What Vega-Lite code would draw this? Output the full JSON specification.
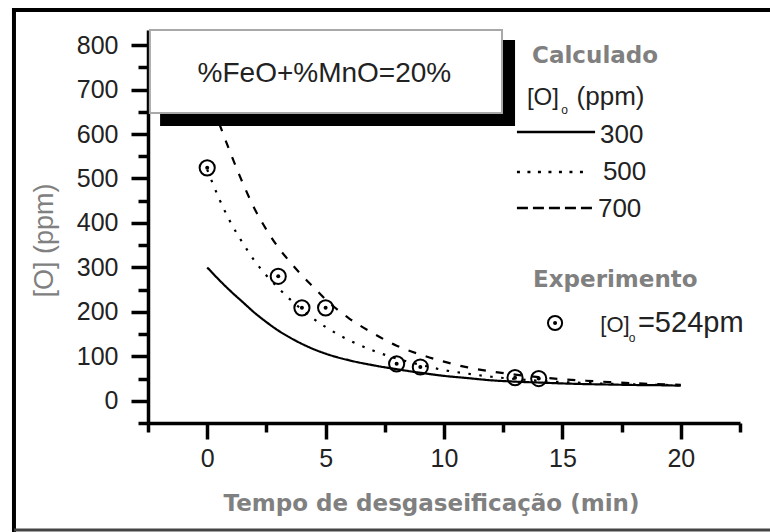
{
  "$schema": "https://vega.github.io/schema/vega-lite/v6.json",
  "width": 592,
  "height": 393,
  "autosize": "none",
  "padding": {"left": 148, "top": 30, "right": 30, "bottom": 109},
  "background": "white",
  "config": {"view": {"stroke": null}, "font": "Liberation Sans"},
  "resolve": {"axis": {"y": "independent"}},
  "datasets": {
    "curves": [
      {"s": "300", "t": 0, "O": 300}, {"s": "300", "t": 0.5, "O": 272}, {"s": "300", "t": 1, "O": 246}, {"s": "300", "t": 1.5, "O": 222},
      {"s": "300", "t": 2, "O": 198}, {"s": "300", "t": 2.5, "O": 177}, {"s": "300", "t": 3, "O": 158}, {"s": "300", "t": 3.5, "O": 142},
      {"s": "300", "t": 4, "O": 128}, {"s": "300", "t": 4.5, "O": 116}, {"s": "300", "t": 5, "O": 106}, {"s": "300", "t": 6, "O": 91},
      {"s": "300", "t": 7, "O": 80}, {"s": "300", "t": 8, "O": 71}, {"s": "300", "t": 9, "O": 63}, {"s": "300", "t": 10, "O": 56},
      {"s": "300", "t": 11, "O": 51}, {"s": "300", "t": 12, "O": 46}, {"s": "300", "t": 13, "O": 43}, {"s": "300", "t": 14, "O": 41},
      {"s": "300", "t": 15, "O": 39}, {"s": "300", "t": 16, "O": 37.5}, {"s": "300", "t": 17, "O": 36.5}, {"s": "300", "t": 18, "O": 35.5},
      {"s": "300", "t": 19, "O": 35}, {"s": "300", "t": 20, "O": 34},
      {"s": "500", "t": 0, "O": 520}, {"s": "500", "t": 0.5, "O": 455}, {"s": "500", "t": 1, "O": 400}, {"s": "500", "t": 1.5, "O": 355},
      {"s": "500", "t": 2, "O": 315}, {"s": "500", "t": 2.5, "O": 282}, {"s": "500", "t": 3, "O": 254}, {"s": "500", "t": 3.5, "O": 228},
      {"s": "500", "t": 4, "O": 205}, {"s": "500", "t": 4.5, "O": 184}, {"s": "500", "t": 5, "O": 166}, {"s": "500", "t": 5.5, "O": 150},
      {"s": "500", "t": 6, "O": 136}, {"s": "500", "t": 7, "O": 113}, {"s": "500", "t": 8, "O": 95}, {"s": "500", "t": 9, "O": 81},
      {"s": "500", "t": 10, "O": 69}, {"s": "500", "t": 11, "O": 61}, {"s": "500", "t": 12, "O": 54}, {"s": "500", "t": 13, "O": 49},
      {"s": "500", "t": 14, "O": 45}, {"s": "500", "t": 15, "O": 42}, {"s": "500", "t": 16, "O": 40}, {"s": "500", "t": 17, "O": 38},
      {"s": "500", "t": 18, "O": 37}, {"s": "500", "t": 19, "O": 36}, {"s": "500", "t": 20, "O": 35},
      {"s": "700", "t": 0, "O": 700}, {"s": "700", "t": 0.5, "O": 625}, {"s": "700", "t": 1, "O": 555}, {"s": "700", "t": 1.5, "O": 490},
      {"s": "700", "t": 2, "O": 432}, {"s": "700", "t": 2.5, "O": 385}, {"s": "700", "t": 3, "O": 345}, {"s": "700", "t": 3.5, "O": 312},
      {"s": "700", "t": 4, "O": 282}, {"s": "700", "t": 4.5, "O": 255}, {"s": "700", "t": 5, "O": 228}, {"s": "700", "t": 5.5, "O": 205},
      {"s": "700", "t": 6, "O": 185}, {"s": "700", "t": 7, "O": 152}, {"s": "700", "t": 8, "O": 124}, {"s": "700", "t": 9, "O": 104},
      {"s": "700", "t": 10, "O": 88}, {"s": "700", "t": 11, "O": 75}, {"s": "700", "t": 12, "O": 66}, {"s": "700", "t": 13, "O": 59},
      {"s": "700", "t": 14, "O": 53}, {"s": "700", "t": 15, "O": 48.5}, {"s": "700", "t": 16, "O": 45}, {"s": "700", "t": 17, "O": 42},
      {"s": "700", "t": 18, "O": 39.5}, {"s": "700", "t": 19, "O": 37.5}, {"s": "700", "t": 20, "O": 36}
    ],
    "exp": [
      {"t": 0, "O": 524}, {"t": 3, "O": 280}, {"t": 4, "O": 209}, {"t": 5, "O": 209},
      {"t": 8, "O": 83}, {"t": 9, "O": 76}, {"t": 13, "O": 52}, {"t": 14, "O": 50}
    ]
  },
  "layer": [
    {
      "data": {"name": "curves"},
      "mark": {"type": "line", "color": "black", "strokeWidth": 2.2, "interpolate": "monotone", "strokeCap": "butt"},
      "encoding": {
        "x": {
          "field": "t", "type": "quantitative",
          "scale": {"domain": [-2.5, 22.5], "nice": false, "zero": false},
          "axis": {
            "title": "Tempo de desgaseificação (min)",
            "values": [-2.5, 0, 2.5, 5, 7.5, 10, 12.5, 15, 17.5, 20, 22.5],
            "labelExpr": "datum.value % 5 === 0 ? datum.label : ''",
            "tickSize": {"condition": {"test": "datum.value % 5 !== 0", "value": 9}, "value": 16},
            "tickWidth": 3.5, "tickColor": "black", "domainColor": "black", "domainWidth": 3.5,
            "labelFont": "Liberation Sans", "labelFontSize": 25, "labelColor": "#222",
            "labelPadding": 7, "labelFlush": false, "labelOverlap": false, "grid": false,
            "titleFont": "DejaVu Sans", "titleFontWeight": "bold", "titleFontSize": 23, "titleColor": "#808080",
            "titleX": 283, "titleY": 87, "titleAlign": "center", "titleBaseline": "alphabetic"
          }
        },
        "y": {
          "field": "O", "type": "quantitative",
          "scale": {"domain": [-50, 834], "nice": false, "zero": false},
          "axis": {
            "orient": "left",
            "title": "[O]   (ppm)",
            "values": [0, 100, 200, 300, 400, 500, 600, 700, 800],
            "tickSize": 17,
            "tickWidth": 3.5, "tickColor": "black", "domainColor": "black", "domainWidth": 3.5,
            "labelFont": "Liberation Sans", "labelFontSize": 25, "labelColor": "#222",
            "labelPadding": 13, "labelFlush": false, "labelOverlap": false, "grid": false,
            "titleFont": "Liberation Sans", "titleFontWeight": "normal", "titleFontSize": 27, "titleColor": "#808080",
            "titleX": -96, "titleY": 210, "titleAngle": -90, "titleAlign": "center", "titleBaseline": "alphabetic"
          }
        },
        "strokeDash": {
          "field": "s", "type": "nominal",
          "scale": {"domain": ["300", "500", "700"], "range": [[1, 0], [2.5, 8.5], [8, 10]]},
          "legend": null
        }
      }
    },
    {
      "data": {"name": "exp"},
      "mark": {"type": "point", "shape": "circle", "filled": false, "stroke": "black", "strokeWidth": 2, "size": 230, "opacity": 1},
      "encoding": {
        "x": {"field": "t", "type": "quantitative"},
        "y": {
          "field": "O", "type": "quantitative",
          "axis": {
            "orient": "left", "title": null, "labels": false, "domain": false, "grid": false,
            "values": [-50, 50, 150, 250, 350, 450, 550, 650, 750],
            "tickSize": 10, "tickWidth": 3.5, "tickColor": "black"
          }
        }
      }
    },
    {
      "data": {"name": "exp"},
      "mark": {"type": "point", "shape": "circle", "filled": true, "color": "black", "size": 16, "opacity": 1},
      "encoding": {
        "x": {"field": "t", "type": "quantitative"},
        "y": {"field": "O", "type": "quantitative", "axis": null}
      }
    },
    {
      "data": {"values": [{}]},
      "mark": {"type": "rect", "color": "black"},
      "encoding": {
        "x": {"datum": -1.99, "type": "quantitative"}, "x2": {"datum": 13.0},
        "y": {"datum": 811.5, "type": "quantitative", "axis": null}, "y2": {"datum": 618}
      }
    },
    {
      "data": {"values": [{}]},
      "mark": {"type": "rect", "fill": "white", "stroke": "#a8a8a8", "strokeWidth": 2},
      "encoding": {
        "x": {"datum": -2.42, "type": "quantitative"}, "x2": {"datum": 12.45},
        "y": {"datum": 834, "type": "quantitative", "axis": null}, "y2": {"datum": 647.3}
      }
    },
    {
      "data": {"values": [{}]},
      "mark": {"type": "text", "text": "%FeO+%MnO=20%", "font": "Liberation Sans", "fontSize": 28, "color": "#222", "align": "center", "baseline": "alphabetic"},
      "encoding": {
        "x": {"datum": 4.95, "type": "quantitative"},
        "y": {"datum": 717, "type": "quantitative", "axis": null}
      }
    },
    {
      "data": {"values": [{}]},
      "mark": {"type": "text", "text": "Calculado", "font": "DejaVu Sans", "fontWeight": "bold", "fontSize": 23, "color": "#808080", "align": "left", "baseline": "alphabetic"},
      "encoding": {
        "x": {"datum": 13.72, "type": "quantitative"},
        "y": {"datum": 760, "type": "quantitative", "axis": null}
      }
    },
    {
      "data": {"values": [{}]},
      "mark": {"type": "text", "text": "[O]", "font": "Liberation Sans", "fontSize": 24, "color": "#222", "align": "left", "baseline": "alphabetic"},
      "encoding": {
        "x": {"datum": 13.5, "type": "quantitative"},
        "y": {"datum": 665, "type": "quantitative", "axis": null}
      }
    },
    {
      "data": {"values": [{}]},
      "mark": {"type": "text", "text": "o", "font": "Liberation Sans", "fontSize": 12, "color": "#222", "align": "left", "baseline": "alphabetic"},
      "encoding": {
        "x": {"datum": 14.95, "type": "quantitative"},
        "y": {"datum": 645, "type": "quantitative", "axis": null}
      }
    },
    {
      "data": {"values": [{}]},
      "mark": {"type": "text", "text": "(ppm)", "font": "Liberation Sans", "fontSize": 26, "color": "#222", "align": "left", "baseline": "alphabetic"},
      "encoding": {
        "x": {"datum": 15.6, "type": "quantitative"},
        "y": {"datum": 665, "type": "quantitative", "axis": null}
      }
    },
    {
      "data": {"values": [{}]},
      "mark": {"type": "rule", "color": "black", "strokeWidth": 2.5},
      "encoding": {
        "x": {"datum": 13.08, "type": "quantitative"}, "x2": {"datum": 16.38},
        "y": {"datum": 604.6, "type": "quantitative", "axis": null}
      }
    },
    {
      "data": {"values": [{}]},
      "mark": {"type": "rule", "color": "black", "strokeWidth": 2.5, "strokeDash": [3, 7.5]},
      "encoding": {
        "x": {"datum": 13.08, "type": "quantitative"}, "x2": {"datum": 16.17},
        "y": {"datum": 514.6, "type": "quantitative", "axis": null}
      }
    },
    {
      "data": {"values": [{}]},
      "mark": {"type": "rule", "color": "black", "strokeWidth": 2.5, "strokeDash": [11, 5]},
      "encoding": {
        "x": {"datum": 13.08, "type": "quantitative"}, "x2": {"datum": 16.46},
        "y": {"datum": 433.6, "type": "quantitative", "axis": null}
      }
    },
    {
      "data": {"values": [{}]},
      "mark": {"type": "text", "text": "300", "font": "Liberation Sans", "fontSize": 26, "color": "#222", "align": "left", "baseline": "alphabetic"},
      "encoding": {
        "x": {"datum": 16.59, "type": "quantitative"},
        "y": {"datum": 580, "type": "quantitative", "axis": null}
      }
    },
    {
      "data": {"values": [{}]},
      "mark": {"type": "text", "text": "500", "font": "Liberation Sans", "fontSize": 26, "color": "#222", "align": "left", "baseline": "alphabetic"},
      "encoding": {
        "x": {"datum": 16.71, "type": "quantitative"},
        "y": {"datum": 496.6, "type": "quantitative", "axis": null}
      }
    },
    {
      "data": {"values": [{}]},
      "mark": {"type": "text", "text": "700", "font": "Liberation Sans", "fontSize": 26, "color": "#222", "align": "left", "baseline": "alphabetic"},
      "encoding": {
        "x": {"datum": 16.5, "type": "quantitative"},
        "y": {"datum": 413.4, "type": "quantitative", "axis": null}
      }
    },
    {
      "data": {"values": [{}]},
      "mark": {"type": "text", "text": "Experimento", "font": "DejaVu Sans", "fontWeight": "bold", "fontSize": 23, "color": "#808080", "align": "left", "baseline": "alphabetic"},
      "encoding": {
        "x": {"datum": 13.76, "type": "quantitative"},
        "y": {"datum": 256, "type": "quantitative", "axis": null}
      }
    },
    {
      "data": {"values": [{}]},
      "mark": {"type": "point", "shape": "circle", "filled": false, "stroke": "black", "strokeWidth": 2, "size": 200, "opacity": 1},
      "encoding": {
        "x": {"datum": 14.69, "type": "quantitative"},
        "y": {"datum": 175, "type": "quantitative", "axis": null}
      }
    },
    {
      "data": {"values": [{}]},
      "mark": {"type": "point", "shape": "circle", "filled": true, "color": "black", "size": 16, "opacity": 1},
      "encoding": {
        "x": {"datum": 14.69, "type": "quantitative"},
        "y": {"datum": 175, "type": "quantitative", "axis": null}
      }
    },
    {
      "data": {"values": [{}]},
      "mark": {"type": "text", "text": "[O]", "font": "Liberation Sans", "fontSize": 22, "color": "#222", "align": "left", "baseline": "alphabetic"},
      "encoding": {
        "x": {"datum": 16.6, "type": "quantitative"},
        "y": {"datum": 154.7, "type": "quantitative", "axis": null}
      }
    },
    {
      "data": {"values": [{}]},
      "mark": {"type": "text", "text": "o", "font": "Liberation Sans", "fontSize": 12, "color": "#222", "align": "left", "baseline": "alphabetic"},
      "encoding": {
        "x": {"datum": 17.8, "type": "quantitative"},
        "y": {"datum": 132.3, "type": "quantitative", "axis": null}
      }
    },
    {
      "data": {"values": [{}]},
      "mark": {"type": "text", "text": "=524pm", "font": "Liberation Sans", "fontSize": 29, "color": "#222", "align": "left", "baseline": "alphabetic"},
      "encoding": {
        "x": {"datum": 18.19, "type": "quantitative"},
        "y": {"datum": 154.7, "type": "quantitative", "axis": null}
      }
    },
    {
      "data": {"values": [{}]},
      "mark": {"type": "rule", "color": "black", "strokeWidth": 4},
      "encoding": {
        "x": {"datum": -8.24, "type": "quantitative"}, "x2": {"datum": 25.5},
        "y": {"datum": 879, "type": "quantitative", "axis": null}
      }
    },
    {
      "data": {"values": [{}]},
      "mark": {"type": "rule", "color": "black", "strokeWidth": 4},
      "encoding": {
        "x": {"datum": -8.16, "type": "quantitative"},
        "y": {"datum": 883.5, "type": "quantitative", "axis": null}, "y2": {"datum": -295}
      }
    },
    {
      "data": {"values": [{}]},
      "mark": {"type": "rule", "color": "#444", "strokeWidth": 3},
      "encoding": {
        "x": {"datum": -8.16, "type": "quantitative"}, "x2": {"datum": 25.5},
        "y": {"datum": -290.7, "type": "quantitative", "axis": null}
      }
    }
  ]
}
